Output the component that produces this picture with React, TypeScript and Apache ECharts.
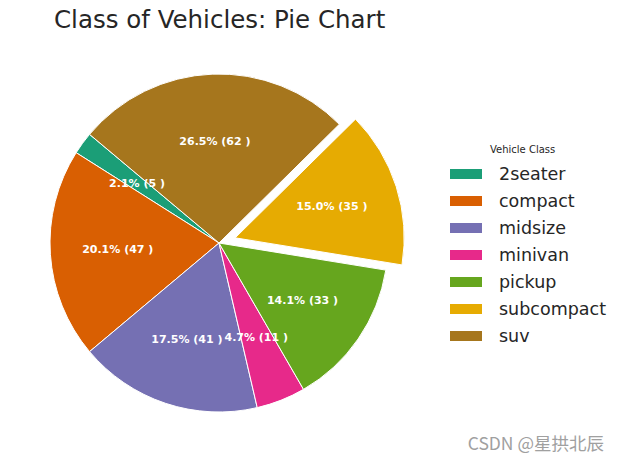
import React, { useEffect, useRef } from "react";
import * as echarts from "echarts";

const categories = ["2seater", "compact", "midsize", "minivan", "pickup", "subcompact", "suv"];
const counts = [5, 47, 41, 11, 33, 35, 62];
const colors = ["#1b9e77", "#d95f02", "#7570b3", "#e7298a", "#66a61e", "#e6ab02", "#a6761d"];
const explodedName = "subcompact";

export default function App() {
  const ref = useRef<HTMLDivElement>(null);
  useEffect(() => {
    if (!ref.current) return;
    const chart = echarts.init(ref.current, null, { renderer: "svg" });
    const total = counts.reduce((a, b) => a + b, 0);
    const R = 169;
    const center = [219, 243];
    const data = categories.map((name, i) => ({
      name,
      value: counts[i],
      selected: name === explodedName,
      itemStyle: { color: colors[i] },
    }));
    const labelData = categories.map((name, i) => ({
      name,
      value: counts[i],
      selected: name === explodedName,
    }));
    const font = "DejaVu Sans";
    chart.setOption({
      animation: false,
      backgroundColor: "#ffffff",
      title: [
        {
          text: "Class of Vehicles: Pie Chart",
          left: 49,
          top: 2,
          textStyle: { fontFamily: font, fontSize: 24.5, fontWeight: "normal", color: "#262626" },
        },
        {
          text: "Vehicle Class",
          left: 485,
          top: 139,
          textStyle: { fontFamily: font, fontSize: 10, fontWeight: "normal", color: "#262626" },
        },
      ],
      legend: {
        orient: "vertical",
        left: 448,
        top: 165,
        padding: 0,
        itemWidth: 34,
        itemHeight: 12,
        itemGap: 9,
        icon: "rect",
        data: categories,
        selectedMode: false,
        textStyle: {
          fontFamily: font,
          fontSize: 17.5,
          lineHeight: 18,
          color: "#262626",
          padding: [0, 0, 0, 11],
        },
      },
      series: [
        {
          type: "pie",
          center,
          radius: R,
          startAngle: 140,
          clockwise: false,
          selectedMode: "single",
          selectedOffset: 17,
          avoidLabelOverlap: false,
          silent: true,
          label: { show: false },
          labelLine: { show: false },
          itemStyle: { borderColor: "#ffffff", borderWidth: 1 },
          emphasis: { disabled: true },
          data,
        },
        {
          type: "pie",
          center,
          radius: [28, R],
          startAngle: 140,
          clockwise: false,
          selectedMode: "single",
          selectedOffset: 17,
          avoidLabelOverlap: false,
          silent: true,
          legendHoverLink: false,
          itemStyle: { color: "rgba(0,0,0,0)", borderWidth: 0 },
          label: {
            show: true,
            position: "inside",
            color: "#ffffff",
            fontFamily: font,
            fontWeight: "bold",
            fontSize: 11,
            formatter: (p: any) => `${((p.value / total) * 100).toFixed(1)}% (${p.value} )`,
          },
          labelLine: { show: false },
          emphasis: { disabled: true },
          data: labelData,
        },
      ],
      graphic: [
        {
          type: "text",
          right: 16,
          top: 434,
          style: {
            text: "CSDN @星拱北辰",
            fontFamily: "Noto Sans CJK SC",
            fontSize: 17.5,
            fill: "#a0a0a0",
          },
        },
      ],
    });
    return () => chart.dispose();
  }, []);
  return (
    <div
      ref={ref}
      style={{ position: "fixed", left: 0, top: 0, width: 620, height: 464 }}
    />
  );
}
